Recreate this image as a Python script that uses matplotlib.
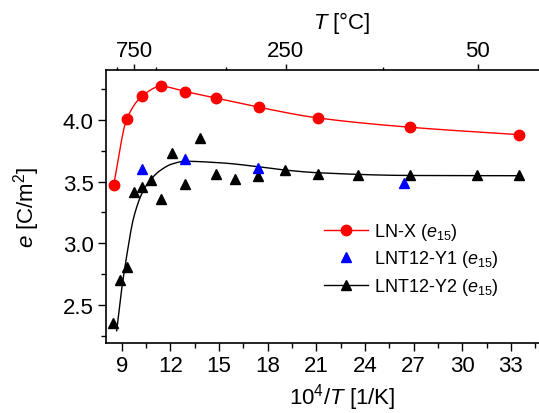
import numpy as np
import matplotlib
matplotlib.use("Agg")
import matplotlib.pyplot as plt
from matplotlib.lines import Line2D
from matplotlib.ticker import FixedLocator, MultipleLocator, NullFormatter

plt.rcParams['font.family'] = ['Liberation Sans', 'DejaVu Sans']
plt.rcParams['mathtext.fontset'] = 'custom'
plt.rcParams['mathtext.rm'] = 'Liberation Sans'
plt.rcParams['mathtext.it'] = 'Liberation Sans:italic'
plt.rcParams['mathtext.bf'] = 'Liberation Sans:bold'

# ---- data (10^4/T [1/K], e [C/m^2]) ----
lnx_x = [8.50, 9.31, 10.25, 11.42, 12.92, 14.81, 17.46, 21.12, 26.77, 33.48]
lnx_y = [3.470, 4.006, 4.192, 4.273, 4.230, 4.178, 4.103, 4.016, 3.941, 3.881]

y1_x = [10.25, 12.92, 17.42, 26.38]
y1_y = [3.603, 3.684, 3.611, 3.487]

y2_x = [8.48, 8.90, 9.31, 9.74, 10.25, 10.81, 11.40, 12.10, 12.92, 13.83,
        14.81, 16.00, 17.42, 19.07, 21.12, 23.59, 26.77, 30.90, 33.48]
y2_y = [2.354, 2.705, 2.810, 3.414, 3.459, 3.516, 3.357, 3.732, 3.483, 3.852,
        3.560, 3.521, 3.543, 3.594, 3.562, 3.551, 3.556, 3.554, 3.551]

# fitted trend curve for LNT12-Y2 (knots)
y2_fit_x = [8.69, 9.00, 9.31, 9.74, 10.33, 10.81, 11.36, 12.10, 12.92,
            15.26, 17.42, 19.07, 21.12, 26.77, 33.48]
y2_fit_y = [2.291, 2.629, 2.900, 3.210, 3.427, 3.520, 3.589, 3.643, 3.665,
            3.651, 3.621, 3.594, 3.572, 3.550, 3.548]

top_major_C = [750, 250, 50]
top_minor_C = [875, 625, 375, 125]

legend_labels = [r'LN-X ($e_{\mathrm{15}}$)', r'LNT12-Y1 ($e_{\mathrm{15}}$)',
                 r'LNT12-Y2 ($e_{\mathrm{15}}$)']


def pchip(x, y, xn):
    x = np.asarray(x, float); y = np.asarray(y, float)
    h = np.diff(x); d = np.diff(y) / h
    n = len(x); m = np.zeros(n)
    for k in range(1, n - 1):
        if d[k - 1] * d[k] > 0:
            w1 = 2 * h[k] + h[k - 1]; w2 = h[k] + 2 * h[k - 1]
            m[k] = (w1 + w2) / (w1 / d[k - 1] + w2 / d[k])
    m[0] = d[0]; m[-1] = d[-1]
    idx = np.clip(np.searchsorted(x, xn) - 1, 0, n - 2)
    t = (xn - x[idx]) / h[idx]
    h00 = 2 * t**3 - 3 * t**2 + 1; h10 = t**3 - 2 * t**2 + t
    h01 = -2 * t**3 + 3 * t**2; h11 = t**3 - t**2
    return h00 * y[idx] + h10 * h[idx] * m[idx] + h01 * y[idx + 1] + h11 * h[idx] * m[idx + 1]


fig = plt.figure(figsize=(5.39, 4.14), dpi=100)
W, H = 539.0, 414.0
left_px, right_px, top_px, bot_px = 106, 539, 71, 344
axw, axh = right_px - left_px, bot_px - top_px
ax = fig.add_axes([left_px / W, 1 - bot_px / H, axw / W, axh / H])

xs = np.linspace(lnx_x[0], lnx_x[-1], 400)
ax.plot(xs, pchip(lnx_x, lnx_y, xs), color='#ff0000', lw=1.0, zorder=2)
ax.plot(lnx_x, lnx_y, 'o', color='#ff0000', ms=7.5, zorder=3)

xs2 = np.linspace(y2_fit_x[0], y2_fit_x[-1], 400)
ax.plot(xs2, pchip(y2_fit_x, y2_fit_y, xs2), color='black', lw=1.0, zorder=2)
ax.plot(y2_x, y2_y, '^', color='black', ms=7.5, zorder=3)
ax.plot(y1_x, y1_y, '^', color='#0000ff', ms=7.5, zorder=4)

ax.set_xlim(8.032, 34.73)
ax.set_ylim(2.192, 4.405)
ax.xaxis.set_major_locator(MultipleLocator(3))
ax.xaxis.set_minor_locator(MultipleLocator(1.5))
ax.yaxis.set_major_locator(MultipleLocator(0.5))
ax.yaxis.set_minor_locator(MultipleLocator(0.25))
ax.tick_params(axis='both', which='major', direction='out', length=5.8, width=1.0,
               labelsize=16, pad=2.5)
ax.tick_params(axis='both', which='minor', direction='out', length=3.3, width=1.0)
ax.tick_params(axis='y', which='major', pad=3)
ax.yaxis.set_major_formatter(matplotlib.ticker.FormatStrFormatter('%.1f'))
for s in ['left', 'bottom', 'top']:
    ax.spines[s].set_linewidth(1.2)
ax.spines['right'].set_visible(False)

ax.set_xlabel(r'10$^{4}$/$T$ [1/K]', fontsize=16)
ax.set_ylabel(r'$e$ [C/m$^{2}$]', fontsize=16)
ax.xaxis.set_label_coords((342 - left_px) / axw, -(382 - bot_px) / axh)
ax.yaxis.set_label_coords(-(left_px - 42) / axw, 0.5)

# top axis in degrees Celsius
axt = ax.twiny()
axt.set_xlim(ax.get_xlim())
conv = lambda c: 1e4 / (np.asarray(c, float) + 273.15)
axt.xaxis.set_major_locator(FixedLocator(conv(top_major_C)))
axt.xaxis.set_minor_locator(FixedLocator(conv(top_minor_C)))
axt.set_xticklabels([str(c) for c in top_major_C])
axt.xaxis.set_minor_formatter(NullFormatter())
axt.tick_params(axis='x', which='major', direction='out', length=4.3, width=1.0,
                labelsize=16, pad=2)
axt.tick_params(axis='x', which='minor', direction='out', length=2.4, width=1.0)
for s in axt.spines.values():
    s.set_visible(False)
axt.set_xlabel(r'$T$ [°C]', fontsize=16)
axt.xaxis.set_label_coords((342 - left_px) / axw, 1 + (top_px - 29) / axh)

handles = [
    Line2D([], [], color='#ff0000', lw=1.0, marker='o', ms=7.5),
    Line2D([], [], color='#0000ff', lw=0, marker='^', ms=7.5),
    Line2D([], [], color='black', lw=1.0, marker='^', ms=7.5),
]
ax.legend(handles, legend_labels, loc='center left', frameon=False,
          bbox_to_anchor=(324 / W, 1 - 260 / H), bbox_transform=fig.transFigure,
          borderpad=0, borderaxespad=0, handlelength=2.45, handletextpad=0.3,
          labelspacing=0.35, numpoints=1, fontsize=13)

fig.savefig('out.png', dpi=100)
